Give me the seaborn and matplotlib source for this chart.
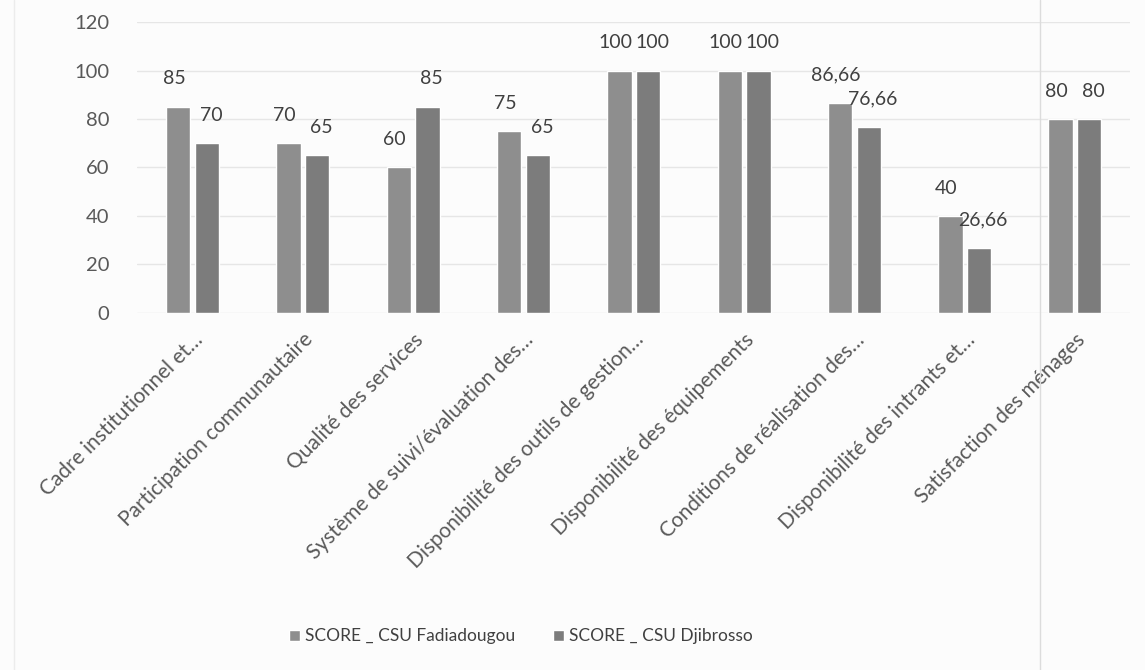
import pandas as pd
import numpy as np
import matplotlib.pyplot as plt
import matplotlib.lines as mlines
import seaborn as sns

# Data
categories = ['Cadre institutionnel et…', 'Participation communautaire',
              'Qualité des services', 'Système de suivi/évaluation des…',
              'Disponibilité des outils de gestion…', 'Disponibilité des équipements',
              'Conditions de réalisation des…', 'Disponibilité des intrants et…',
              'Satisfaction des ménages']
series = ['SCORE _ CSU Fadiadougou', 'SCORE _ CSU Djibrosso']
fadiadougou = [85, 70, 60, 75, 100, 100, 86.66, 40, 80]
djibrosso = [70, 65, 85, 65, 100, 100, 76.66, 26.66, 80]
y_ticks = [0, 20, 40, 60, 80, 100, 120]

df = pd.DataFrame({
    'Critère': categories * 2,
    'Série': [series[0]] * len(categories) + [series[1]] * len(categories),
    'Score': fadiadougou + djibrosso,
})

sns.set_theme(style="white")
plt.rcParams['font.family'] = ['Lato', 'DejaVu Sans']
text_col = '#595959'

fig = plt.figure(figsize=(11.45, 6.7), dpi=100)
fig.patch.set_facecolor('#fcfcfc')
ax = fig.add_axes([0.12, 0.533, 0.867, 0.434])
ax.set_facecolor('#fcfcfc')

sns.barplot(data=df, x='Critère', y='Score', hue='Série', order=categories,
            hue_order=series, palette=['#8e8e8e', '#7c7c7c'],
            width=0.52, gap=0.15, ax=ax, saturation=1)

def fmt(v):
    s = f'{v:g}'
    return s.replace('.', ',')

# data labels, nudged a little apart so neighbours do not collide
for cont, vals, dx in zip(ax.containers, [fadiadougou, djibrosso], [-3, 3]):
    texts = ax.bar_label(cont, labels=[fmt(v) for v in vals], padding=14,
                         fontsize=14, color='#404040')
    for t in texts:
        t.xyann = (dx, t.xyann[1])

ax.set_ylim(0, 120)
ax.set_xlim(-0.5, len(categories) - 0.5)
ax.set_yticks(y_ticks)
ax.yaxis.grid(True, color='#e6e6e6', linewidth=1)
ax.set_axisbelow(True)
for s in ax.spines.values():
    s.set_visible(False)
ax.set_xlabel('')
ax.set_ylabel('')
ax.tick_params(axis='y', length=0, labelsize=14.5, labelcolor=text_col, pad=20)
ax.tick_params(axis='x', length=0, labelsize=15, labelcolor=text_col, pad=12)
plt.setp(ax.get_xticklabels(), rotation=45, ha='right', rotation_mode='anchor')

ax.legend(loc='center', bbox_to_anchor=(0.455, 0.05), bbox_transform=fig.transFigure,
          ncol=2, frameon=False, fontsize=12.5, labelcolor='#404040',
          handlelength=0.6, handleheight=0.6, handletextpad=0.3, columnspacing=2.2)

# faint scan edge lines
fig.add_artist(mlines.Line2D([0.908, 0.908], [0.0, 1.0], color='#dcdcdc', linewidth=1))
fig.add_artist(mlines.Line2D([0.012, 0.012], [0.0, 1.0], color='#ececec', linewidth=1))

fig.savefig('out.png', dpi=100)
